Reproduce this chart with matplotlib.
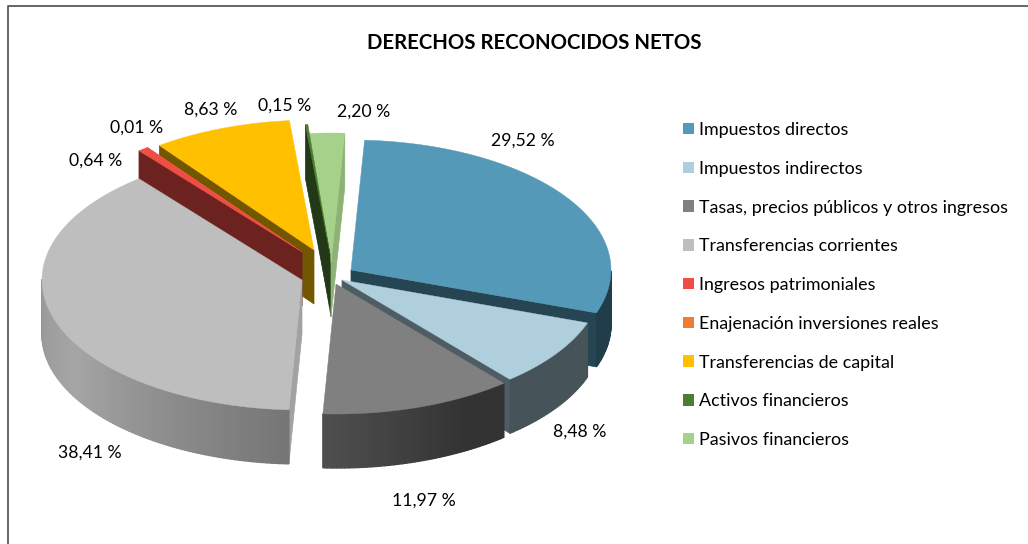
import numpy as np
import matplotlib
matplotlib.use("Agg")
import matplotlib.pyplot as plt
from matplotlib.patches import Patch

categories = ["Impuestos directos", "Impuestos indirectos", "Tasas, precios públicos y otros ingresos",
              "Transferencias corrientes", "Ingresos patrimoniales", "Enajenación inversiones reales",
              "Transferencias de capital", "Activos financieros", "Pasivos financieros"]
values = [29.52, 8.48, 11.97, 38.41, 0.64, 0.01, 8.63, 0.15, 2.20]
value_labels = ["29,52 %", "8,48 %", "11,97 %", "38,41 %", "0,64 %", "0,01 %", "8,63 %", "0,15 %", "2,20 %"]
colors = ["#5599B8", "#AECFDB", "#808080", "#BEBEBE", "#F04E45", "#ED7D31", "#FFC000", "#4E7D32", "#A5D18B"]

# layout, in pixels of the 1028x544 picture
apex_x = [351, 342, 336, 302, 302, 302, 314, 330, 331]
apex_y = [270, 280, 284, 280, 252, 252, 250, 254, 263]
label_x = [523, 580, 424, 90, 96, 137, 211, 285, 364]
label_y = [141, 432, 501, 453, 161, 128, 110, 106, 112]
draw_order = [8, 7, 6, 5, 4, 3, 0, 1, 2]

START_ANGLE = 3.0
RX, RY, DEPTH = 260, 130, 54


def darker(color, k):
    return tuple(c * k for c in matplotlib.colors.to_rgb(color))


def rim(angle):
    a = np.radians(angle)
    return RX * np.sin(a), -RY * np.cos(a)


fig = plt.figure(figsize=(10.28, 5.44), dpi=100)
ax = fig.add_axes([0, 0, 1, 1])
ax.set_xlim(0, 1028)
ax.set_ylim(544, 0)
ax.axis("off")

plt.rcParams["font.family"] = ["Lato", "DejaVu Sans"]

# chart border, only top and left fall inside the picture
ax.plot([7.5, 7.5, 1028], [544, 6, 6], color="#595959", linewidth=1.3)

ends = START_ANGLE + np.cumsum(values) * 3.6
starts = ends - np.array(values) * 3.6

for i in draw_order:
    x0, y0 = apex_x[i], apex_y[i]
    angles = np.linspace(starts[i], ends[i], max(3, int(values[i] * 3.6) + 2))
    rx, ry = rim(angles)

    # radial cut faces first, only those turned to the viewer
    for edge, normal in [(starts[i], starts[i] - 90), (ends[i], ends[i] + 90)]:
        n = normal % 360
        if np.cos(np.radians(n)) >= 0:
            continue
        ex, ey = rim(edge)
        k = 0.85 if n < 120 else 0.45
        ax.fill([x0, x0 + ex, x0 + ex, x0], [y0, y0 + ey, y0 + ey + DEPTH, y0 + DEPTH],
                color=darker(colors[i], k), linewidth=0.5)

    # outer wall, shaded strip by strip
    for a, b in zip(angles[:-1], angles[1:]):
        if 90 <= (a % 360) <= 270:
            k = np.interp(a % 360, [90, 150, 183, 240, 270], [0.4, 0.4, 0.62, 0.87, 0.8])
            ax1, ay1 = rim(a)
            bx1, by1 = rim(b)
            ax.fill([x0 + ax1, x0 + bx1, x0 + bx1, x0 + ax1],
                    [y0 + ay1, y0 + by1, y0 + by1 + DEPTH, y0 + ay1 + DEPTH],
                    color=darker(colors[i], k), linewidth=1)

    # top face
    ax.fill(np.r_[x0, x0 + rx], np.r_[y0, y0 + ry], color=colors[i], linewidth=0.3)

for i, lab in enumerate(value_labels):
    ax.text(label_x[i], label_y[i], lab, ha="center", va="center", fontsize=12.7, color="#000000")

ax.text(534, 43, "DERECHOS RECONOCIDOS NETOS", ha="center", va="center",
        fontsize=14.7, fontweight="bold", color="#000000")

handles = [Patch(facecolor=c, edgecolor="none") for c in colors]
ax.legend(handles, categories, loc="upper left", bbox_to_anchor=(683 / 1028, 1 - 122 / 544),
          frameon=False, fontsize=12.9, labelspacing=1.27, handlelength=0.61, handleheight=0.61,
          handletextpad=0.27, borderpad=0, borderaxespad=0)

fig.savefig("out.png", dpi=100)
